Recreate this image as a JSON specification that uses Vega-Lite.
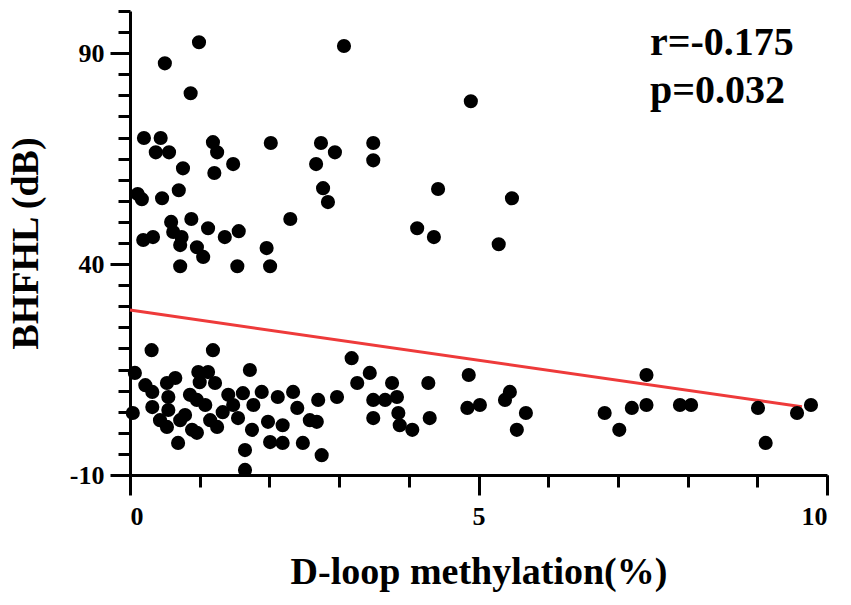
{
  "$schema": "https://vega.github.io/schema/vega-lite/v6.json",
  "autosize": "none",
  "width": 697,
  "height": 464,
  "padding": {"left": 130, "top": 11, "right": 24, "bottom": 130},
  "background": "white",
  "datasets": {
    "pts": [
      {"meth": 0.99, "hl": 92.6}, {"meth": 3.07, "hl": 91.7}, {"meth": 0.5, "hl": 87.6}, {"meth": 0.87, "hl": 80.5},
      {"meth": 0.2, "hl": 69.9}, {"meth": 0.44, "hl": 69.9}, {"meth": 0.37, "hl": 66.5}, {"meth": 0.56, "hl": 66.5},
      {"meth": 1.19, "hl": 68.9}, {"meth": 1.25, "hl": 66.5}, {"meth": 0.76, "hl": 62.7}, {"meth": 1.21, "hl": 61.6},
      {"meth": 1.48, "hl": 63.7}, {"meth": 2.02, "hl": 68.7}, {"meth": 2.74, "hl": 68.7}, {"meth": 2.94, "hl": 66.5},
      {"meth": 3.49, "hl": 68.7}, {"meth": 3.49, "hl": 64.6}, {"meth": 2.67, "hl": 63.7}, {"meth": 0.11, "hl": 56.6},
      {"meth": 0.17, "hl": 55.4}, {"meth": 0.46, "hl": 55.6}, {"meth": 0.7, "hl": 57.5}, {"meth": 2.77, "hl": 58.0},
      {"meth": 2.84, "hl": 54.7}, {"meth": 2.3, "hl": 50.7}, {"meth": 0.59, "hl": 50.0}, {"meth": 0.88, "hl": 50.7},
      {"meth": 1.12, "hl": 48.5}, {"meth": 0.19, "hl": 45.7}, {"meth": 0.33, "hl": 46.4}, {"meth": 0.62, "hl": 47.6},
      {"meth": 0.74, "hl": 46.4}, {"meth": 0.72, "hl": 44.5}, {"meth": 0.96, "hl": 44.0}, {"meth": 1.05, "hl": 41.7},
      {"meth": 1.36, "hl": 46.4}, {"meth": 1.56, "hl": 47.8}, {"meth": 1.96, "hl": 43.8}, {"meth": 0.72, "hl": 39.5},
      {"meth": 1.54, "hl": 39.5}, {"meth": 2.01, "hl": 39.5}, {"meth": 4.89, "hl": 78.6}, {"meth": 4.42, "hl": 57.8},
      {"meth": 5.48, "hl": 55.6}, {"meth": 4.12, "hl": 48.5}, {"meth": 4.36, "hl": 46.4}, {"meth": 5.29, "hl": 44.7},
      {"meth": 0.31, "hl": 19.6}, {"meth": 1.19, "hl": 19.6}, {"meth": 0.07, "hl": 14.2}, {"meth": 0.22, "hl": 11.3},
      {"meth": 0.32, "hl": 9.7}, {"meth": 0.32, "hl": 6.1}, {"meth": 0.04, "hl": 4.7}, {"meth": 0.53, "hl": 11.8},
      {"meth": 0.65, "hl": 13.0}, {"meth": 0.55, "hl": 8.5}, {"meth": 0.55, "hl": 5.4}, {"meth": 0.53, "hl": 1.4},
      {"meth": 0.69, "hl": -2.4}, {"meth": 0.72, "hl": 3.0}, {"meth": 0.89, "hl": 0.7}, {"meth": 0.96, "hl": 0.0},
      {"meth": 0.98, "hl": 14.4}, {"meth": 1.12, "hl": 14.4}, {"meth": 1.0, "hl": 12.0}, {"meth": 1.22, "hl": 11.8},
      {"meth": 0.96, "hl": 7.8}, {"meth": 1.08, "hl": 6.6}, {"meth": 1.15, "hl": 3.0}, {"meth": 1.25, "hl": 1.4},
      {"meth": 1.33, "hl": 4.9}, {"meth": 1.48, "hl": 6.6}, {"meth": 1.55, "hl": 3.5}, {"meth": 1.62, "hl": 9.4},
      {"meth": 1.72, "hl": 14.9}, {"meth": 1.77, "hl": 6.6}, {"meth": 1.89, "hl": 9.7}, {"meth": 1.75, "hl": 0.7},
      {"meth": 1.98, "hl": 2.6}, {"meth": 2.01, "hl": -2.2}, {"meth": 1.65, "hl": -4.1}, {"meth": 1.65, "hl": -8.8},
      {"meth": 2.12, "hl": 8.5}, {"meth": 0.79, "hl": 4.2}, {"meth": 0.43, "hl": 3.0}, {"meth": 0.86, "hl": 9.0},
      {"meth": 1.41, "hl": 9.0}, {"meth": 2.19, "hl": 1.8}, {"meth": 2.19, "hl": -2.4}, {"meth": 2.34, "hl": 9.7},
      {"meth": 2.4, "hl": 5.9}, {"meth": 2.58, "hl": 3.0}, {"meth": 2.68, "hl": 2.6}, {"meth": 2.48, "hl": -2.4},
      {"meth": 2.7, "hl": 7.8}, {"meth": 2.75, "hl": -5.3}, {"meth": 2.97, "hl": 8.5}, {"meth": 3.18, "hl": 17.7},
      {"meth": 3.26, "hl": 11.8}, {"meth": 3.44, "hl": 14.2}, {"meth": 3.49, "hl": 7.8}, {"meth": 3.66, "hl": 7.8},
      {"meth": 3.76, "hl": 11.8}, {"meth": 3.83, "hl": 8.5}, {"meth": 3.49, "hl": 3.5}, {"meth": 3.85, "hl": 4.7},
      {"meth": 3.87, "hl": 1.8}, {"meth": 4.05, "hl": 0.7}, {"meth": 4.28, "hl": 11.8}, {"meth": 4.3, "hl": 3.5},
      {"meth": 4.86, "hl": 13.7}, {"meth": 4.84, "hl": 5.9}, {"meth": 5.02, "hl": 6.6}, {"meth": 5.45, "hl": 9.7},
      {"meth": 5.38, "hl": 7.8}, {"meth": 5.68, "hl": 4.7}, {"meth": 5.55, "hl": 0.7}, {"meth": 6.81, "hl": 4.7},
      {"meth": 7.02, "hl": 0.7}, {"meth": 7.2, "hl": 5.9}, {"meth": 7.41, "hl": 13.7}, {"meth": 7.41, "hl": 6.6},
      {"meth": 7.89, "hl": 6.6}, {"meth": 8.05, "hl": 6.6}, {"meth": 9.01, "hl": 5.9}, {"meth": 9.12, "hl": -2.4},
      {"meth": 9.57, "hl": 4.7}, {"meth": 9.77, "hl": 6.6}
    ],
    "fit": [
      {"meth": 0, "hl": 29.1},
      {"meth": 9.64, "hl": 6.2}
    ],
    "stats": [
      {"meth": 7.46, "hl": 89.5, "label": "r=-0.175"},
      {"meth": 7.46, "hl": 78.2, "label": "p=0.032"}
    ]
  },
  "layer": [
    {
      "data": {"name": "fit"},
      "mark": {"type": "line", "color": "#ee3a3a", "strokeWidth": 3},
      "encoding": {
        "x": {
          "field": "meth",
          "type": "quantitative",
          "scale": {"domain": [0, 10], "nice": false},
          "axis": {
            "orient": "bottom",
            "values": [0, 1, 2, 3, 4, 5, 6, 7, 8, 9, 10],
            "tickSize": 12,
            "labels": false,
            "title": null,
            "grid": false,
            "domain": false
          }
        },
        "y": {
          "field": "hl",
          "type": "quantitative",
          "scale": {"domain": [-10, 100], "nice": false},
          "axis": {
            "orient": "left",
            "values": [-10, -5, 0, 5, 10, 15, 20, 25, 30, 35, 40, 45, 50, 55, 60, 65, 70, 75, 80, 85, 90, 95, 100],
            "tickSize": 12,
            "labels": false,
            "title": null,
            "grid": false,
            "domain": false
          }
        }
      }
    },
    {
      "data": {"name": "pts"},
      "mark": {"type": "circle", "color": "black", "opacity": 1, "size": 200},
      "encoding": {
        "x": {
          "field": "meth",
          "type": "quantitative",
          "axis": {
            "orient": "bottom",
            "values": [0, 5, 10],
            "labelExpr": "'' + datum.value",
            "tickSize": 20,
            "labelPadding": 8,
            "title": "D-loop methylation(%)",
            "titlePadding": 24,
            "grid": false
          }
        },
        "y": {
          "field": "hl",
          "type": "quantitative",
          "axis": {
            "orient": "left",
            "values": [-10, 40, 90],
            "labelExpr": "'' + datum.value",
            "tickSize": 20,
            "labelPadding": 6,
            "title": "BHFHL (dB)",
            "titlePadding": 24,
            "grid": false
          }
        }
      }
    },
    {
      "data": {"name": "stats"},
      "mark": {
        "type": "text",
        "align": "left",
        "baseline": "alphabetic",
        "font": "Liberation Serif",
        "fontWeight": "bold",
        "fontSize": 40,
        "color": "black"
      },
      "encoding": {
        "x": {"field": "meth", "type": "quantitative", "axis": null},
        "y": {"field": "hl", "type": "quantitative", "axis": null},
        "text": {"field": "label", "type": "nominal"}
      }
    }
  ],
  "resolve": {"axis": {"x": "independent", "y": "independent"}},
  "config": {
    "view": {"stroke": null},
    "axis": {
      "domainColor": "black",
      "domainWidth": 3,
      "tickColor": "black",
      "tickWidth": 3,
      "labelFont": "Liberation Serif",
      "labelFontSize": 26,
      "labelFontWeight": "bold",
      "labelColor": "black",
      "titleFont": "Liberation Serif",
      "titleFontSize": 38,
      "titleFontWeight": "bold",
      "titleColor": "black"
    }
  }
}
